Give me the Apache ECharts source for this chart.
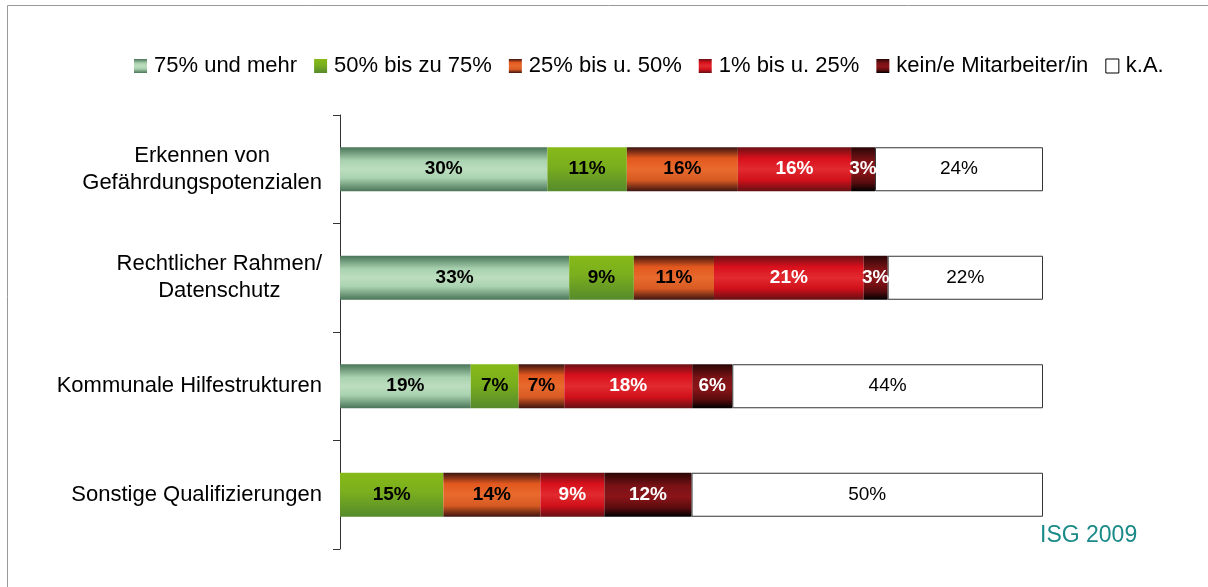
<!DOCTYPE html>
<html><head><meta charset="utf-8">
<script src="https://cdn.jsdelivr.net/npm/echarts@6/dist/echarts.min.js"></script>
<style>html,body{margin:0;padding:0;background:#fff}#c{width:1208px;height:587px}</style>
</head><body><div id="c"></div>
<script>
const categories = ['Erkennen von\nGefährdungspotenzialen','Rechtlicher Rahmen/\nDatenschutz','Kommunale Hilfestrukturen','Sonstige Qualifizierungen'];
const seriesNames = ['75% und mehr','50% bis zu 75%','25% bis u. 50%','1% bis u. 25%','kein/e Mitarbeiter/in','k.A.'];
const s75 = [29.5, 32.6, 18.6, 0];
const s50 = [11.3, 9.2, 6.8, 14.7];
const s25 = [15.8, 11.4, 6.5, 13.8];
const s1 = [16.1, 21.3, 18.2, 9.1];
const kein = [3.4, 3.4, 5.7, 12.4];
const ka = [23.9, 22.1, 44.2, 50.0];
const sourceText = 'ISG 2009';

function grad(stops){return {type:'linear',x:0,y:0,x2:0,y2:1,colorStops:stops.map(s=>({offset:s[0],color:s[1]}))};}
const fills = [
  grad([[0,'#4a7558'],[0.3,'#a9d2b0'],[0.5,'#bcdebe'],[0.7,'#a9d2b0'],[1,'#4a7558']]),
  grad([[0,'#86ba18'],[0.45,'#7aae1e'],[1,'#558a2c']]),
  grad([[0,'#3a1410'],[0.25,'#e2581e'],[0.5,'#e96a2e'],[0.75,'#d65a22'],[1,'#3e1410']]),
  grad([[0,'#6a1014'],[0.25,'#d8101c'],[0.5,'#e22a30'],[0.75,'#d0101a'],[1,'#641014']]),
  grad([[0,'#2a0606'],[0.3,'#7a1216'],[0.55,'#8a1418'],[0.8,'#5a0c0e'],[1,'#000000']]),
  '#ffffff'
];
const data = [s75,s50,s25,s1,kein,ka];
const labelColors = ['#000','#000','#000','#fff','#fff','#000'];
const FONT = '"Liberation Sans",Arial,sans-serif';

const series = data.map((d,i)=>({
  name: seriesNames[i], type:'bar', stack:'t', data:d, barWidth:44,
  itemStyle: i===5 ? {color:'#fff',borderColor:'#333',borderWidth:1} : {color:fills[i]},
  label:{show:true, position:'inside', color:labelColors[i],
    fontFamily:FONT, fontWeight: i===5?'normal':'bold', fontSize:19,
    formatter:p=>p.value>0?Math.round(p.value)+'%':''},
  emphasis:{disabled:true}
}));

const chart = echarts.init(document.getElementById('c'),null,{renderer:'canvas'});
chart.setOption({
  animation:false,
  textStyle:{fontFamily:FONT},
  legend:{left:129, top:50, itemWidth:13, itemHeight:14, itemGap:17,
    icon:'rect',
    textStyle:{fontSize:22,color:'#000',fontFamily:FONT,padding:[0,0,0,2]},
    data:seriesNames.map((n,i)=>i===5?{name:n,itemStyle:{color:'#fff',borderColor:'#000',borderWidth:1}}:n)},
  grid:{left:340, right:165, top:115, bottom:38, containLabel:false},
  xAxis:{type:'value', min:0, max:100, show:false},
  yAxis:{type:'category', data:categories, inverse:true,
    axisLine:{show:true,lineStyle:{color:'#333',width:1}},
    axisTick:{show:true,length:7,lineStyle:{color:'#333'}},
    axisLabel:{color:'#000',fontSize:22,margin:18,lineHeight:27,fontFamily:FONT,align:'right',
      formatter:v=>v.split('\n').map(l=>'{c|'+l+'}').join('\n'),
      rich:{c:{align:'center',fontSize:22,lineHeight:27,color:'#000',fontFamily:FONT}}}},
  graphic:[
    {type:'rect',shape:{x:7.5,y:5.5,width:1300,height:700},style:{fill:'none',stroke:'#999',lineWidth:1},silent:true},
    {type:'text',left:1040,top:524,style:{text:sourceText,fill:'#1a8a88',fontSize:23,fontFamily:FONT}}
  ],
  series:series
});
</script></body></html>
